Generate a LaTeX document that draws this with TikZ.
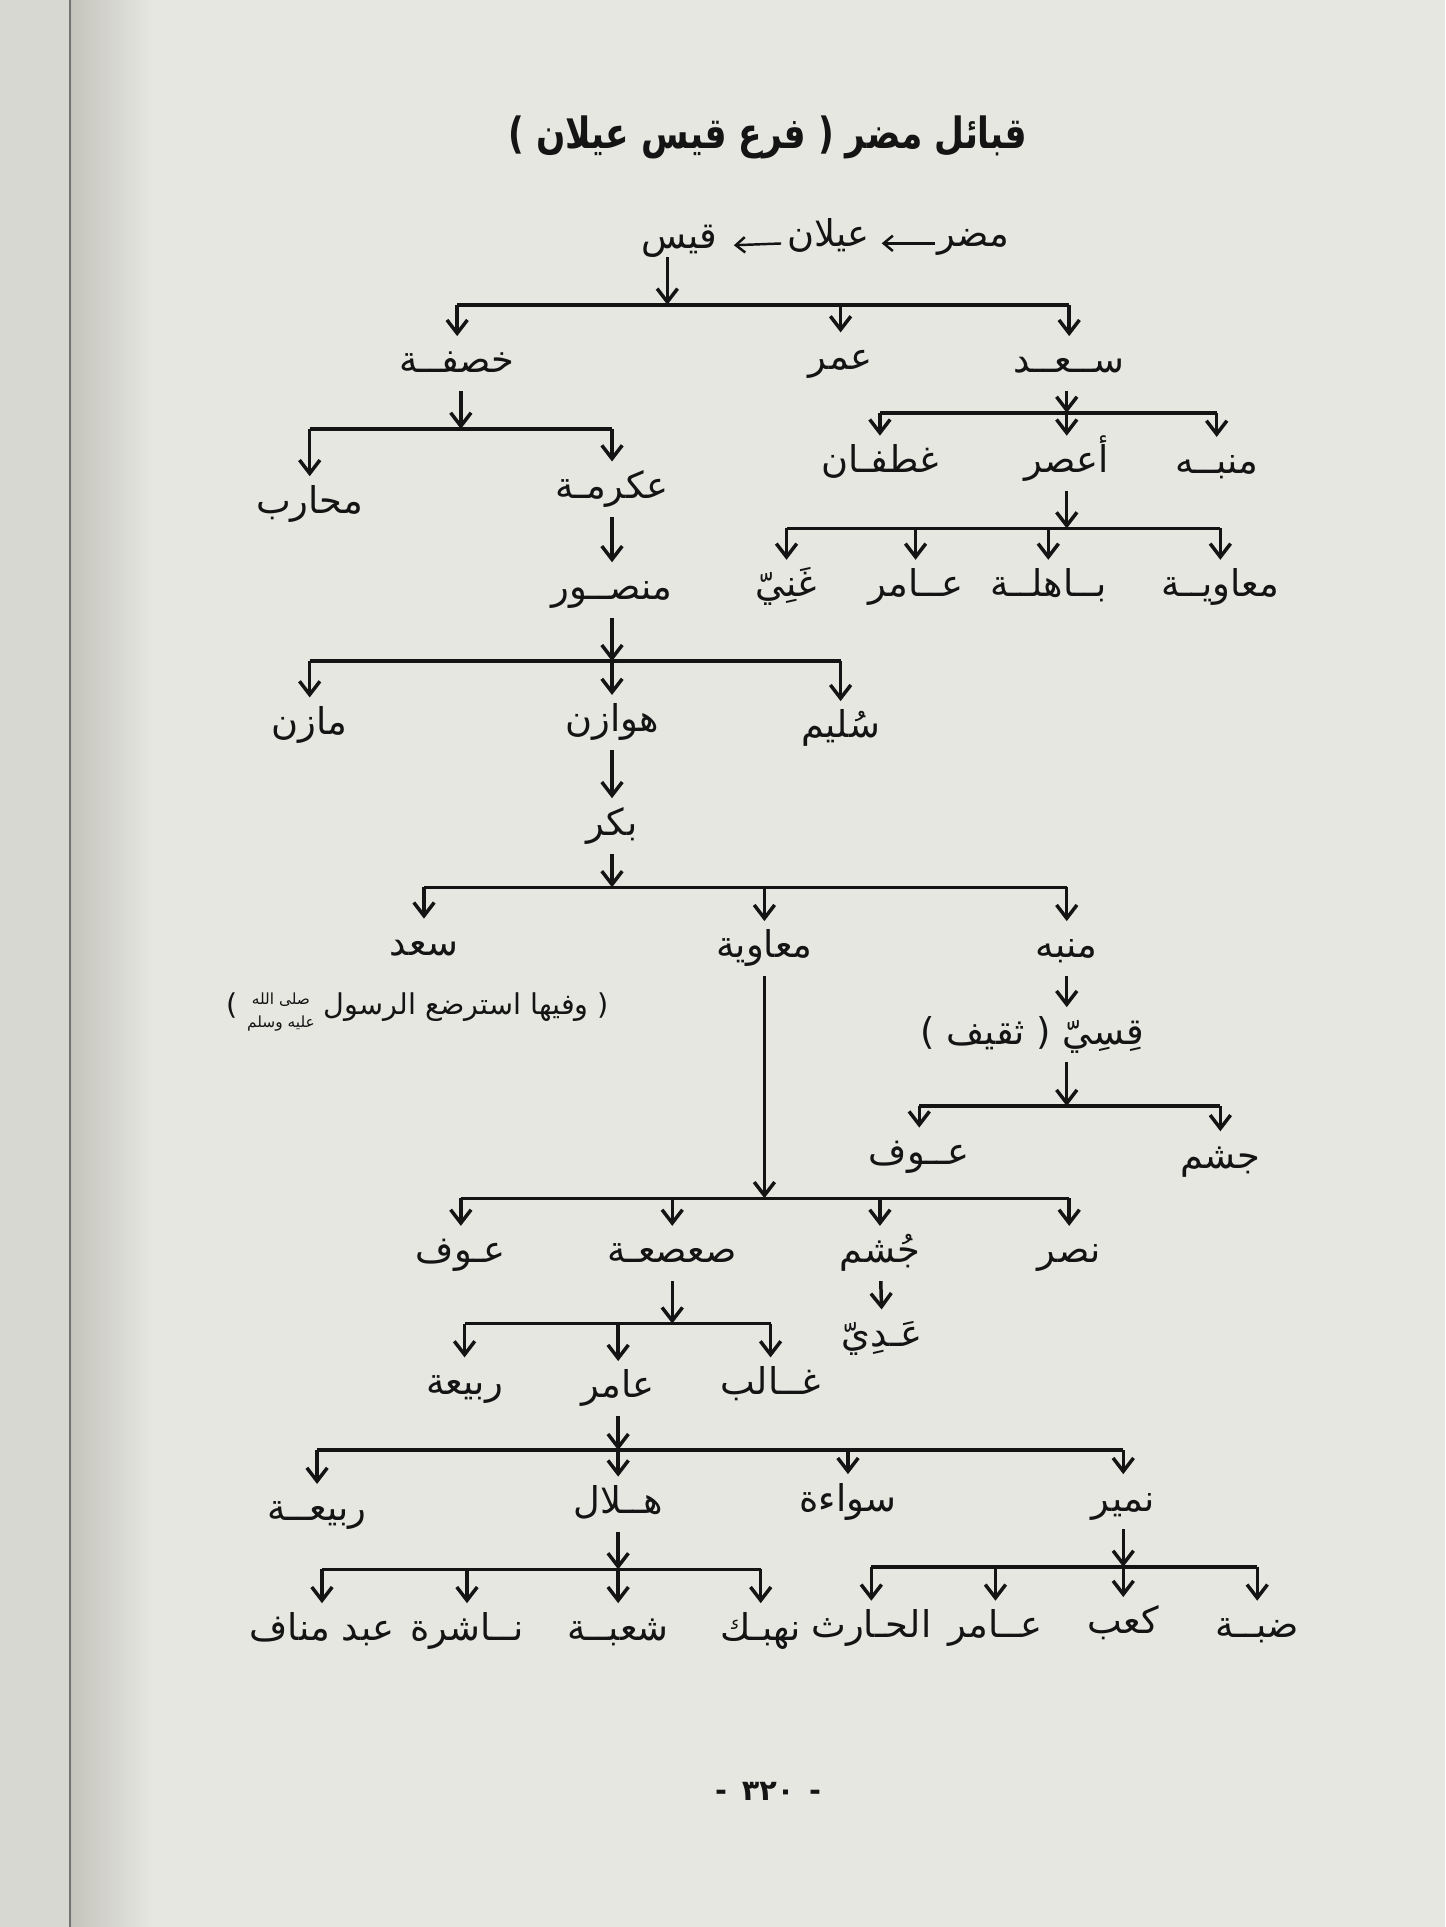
\documentclass[tikz,border=0pt]{standalone}
\usepackage{fontspec}
\usetikzlibrary{arrows.meta}
\TeXXeTstate=1
\newfontfamily\arabicfont[Script=Arabic]{DejaVu Sans}
\newcommand{\artxt}[1]{{\arabicfont\beginR #1\endR}}
\newcommand{\pbuhmark}{\raisebox{-0.8ex}{\fontsize{7.5}{7.5}\selectfont\shortstack{\beginR صلى الله\endR\\[1.5pt]\beginR عليه وسلم\endR}}}
\definecolor{pagebg}{HTML}{E7E7E2}
\definecolor{leftpage}{HTML}{D8D8D2}
\definecolor{shadowcol}{HTML}{C4C4BC}
\definecolor{ink}{HTML}{141414}
\begin{document}
\begin{tikzpicture}[x=0.6pt,y=-0.6pt,
  lbl/.style={font=\arabicfont\fontsize{18}{21}\selectfont, text=ink, inner sep=0pt,
              text height=12pt, text depth=3pt, outer sep=6pt},
  toplbl/.style={lbl, outer sep=1pt},
  ln/.style={draw=ink, line width=1.7pt},
  arr/.style={ln, -{Straight Barb[length=6.5pt,width=10pt]}},
  harr/.style={draw=ink, line width=1.2pt, -{Straight Barb[length=4.5pt,width=7.5pt]}}]
% page
\fill[pagebg] (0,0) rectangle (1176,1568);
\useasboundingbox (0,0) rectangle (1176,1568);
\fill[leftpage] (0,0) rectangle (57,1568);
\shade[left color=shadowcol, right color=pagebg] (57,0) rectangle (125,1568);
\draw[black!55, line width=1.2pt] (57,0) -- (57,1568);

% title
\node[font=\arabicfont\bfseries\fontsize{21}{25}\selectfont, text=ink] (title) at (625,112)
  {\scalebox{0.8}[1]{\artxt{قبائل مضر ( فرع قيس عيلان )}}};

% top row
\node[toplbl] (mudar) at (792,193) {مضر};
\node[toplbl] (aylan) at (674,193) {عيلان};
\node[toplbl] (qays)  at (553,195) {قيس};
\draw[harr, shorten <=0pt, shorten >=5pt] ([yshift=-3pt]mudar.west) -- ([yshift=-3pt]aylan.east);
\draw[harr, shorten <=2pt, shorten >=7pt] ([yshift=-3pt]aylan.west) -- ([yshift=-3pt]qays.east);

% level 1
\node[lbl] (khasafa) at (372,296) {خصفــة};
\node[lbl] (umar)    at (684,293) {عمر};
\node[lbl] (saad)    at (870,296) {ســعــد};
\coordinate (b1) at (543,248);
\draw[arr] (qays.south -| b1) -- (b1);
\draw[ln] (b1 -| khasafa) -- (b1 -| saad);
\foreach \c in {khasafa,umar,saad} \draw[arr] (b1 -| \c) -- (\c);

% saad branch
\node[lbl] (ghatafan) at (716,377) {غطفـان};
\node[lbl] (asur)     at (868,377) {أعصر};
\node[lbl] (manbah1)  at (990,378) {منبــه};
\coordinate (b2) at (868,336);
\draw[arr] (saad.south -| b2) -- (b2);
\draw[ln] (b2 -| ghatafan) -- (b2 -| manbah1);
\foreach \c in {ghatafan,asur,manbah1} \draw[arr] (b2 -| \c) -- (\c);

\node[lbl] (ghani)  at (640,478) {غَنِيّ};
\node[lbl] (amir1)  at (745,478) {عــامر};
\node[lbl] (bahila) at (853,478) {بــاهلــة};
\node[lbl] (muaw1)  at (993,478) {معاويــة};
\coordinate (b3) at (868,430);
\draw[arr] (asur.south -| b3) -- (b3);
\draw[ln] (b3 -| ghani) -- (b3 -| muaw1);
\foreach \c in {ghani,amir1,bahila,muaw1} \draw[arr] (b3 -| \c) -- (\c);

% khasafa branch
\node[lbl] (muharib) at (252,410) {محارب};
\node[lbl] (ikrima)  at (498,398) {عكرمـة};
\coordinate (b4) at (375,349);
\draw[arr] (khasafa.south -| b4) -- (b4);
\draw[ln] (b4 -| muharib) -- (b4 -| ikrima);
\foreach \c in {muharib,ikrima} \draw[arr] (b4 -| \c) -- (\c);

\node[lbl] (mansur) at (498,480) {منصــور};
\draw[arr] (ikrima) -- (mansur);

\node[lbl] (mazin)   at (252,590) {مازن};
\node[lbl] (hawazin) at (498,588) {هوازن};
\node[lbl] (sulaym)  at (684,593) {سُليم};
\coordinate (b5) at (498,538);
\draw[arr] (mansur.south -| b5) -- (b5);
\draw[ln] (b5 -| mazin) -- (b5 -| sulaym);
\foreach \c in {mazin,hawazin,sulaym} \draw[arr] (b5 -| \c) -- (\c);

\node[lbl] (bakr) at (498,672) {بكر};
\draw[arr] (hawazin) -- (bakr);

\node[lbl] (saad2)   at (345,770) {سعد};
\node[lbl] (muaw2)   at (622,772) {معاوية};
\node[lbl] (manbah2) at (868,772) {منبه};
\coordinate (b6) at (498,722);
\draw[arr] (bakr.south -| b6) -- (b6);
\draw[ln] (b6 -| saad2) -- (b6 -| manbah2);
\foreach \c in {saad2,muaw2,manbah2} \draw[arr] (b6 -| \c) -- (\c);

\node[lbl, font=\arabicfont\fontsize{14}{18}\selectfont] (note) at (340,818)
  {\artxt{( وفيها استرضع الرسول \pbuhmark{} )}};

% manbah branch
\node[lbl] (qasi) at (840,842) {\artxt{قِسِيّ ( ثقيف )}};
\coordinate (qx) at (868,842);
\draw[arr] (manbah2) -- (qasi.north -| qx);
\node[lbl] (awf1)    at (748,940) {عــوف};
\node[lbl] (jusham1) at (993,943) {جشم};
\coordinate (b7) at (868,900);
\draw[arr] (qasi.south -| b7) -- (b7);
\draw[ln] (b7 -| awf1) -- (b7 -| jusham1);
\foreach \c in {awf1,jusham1} \draw[arr] (b7 -| \c) -- (\c);

% muawiya branch
\node[lbl] (awf2)    at (375,1020) {عـوف};
\node[lbl] (sasaa)   at (547,1020) {صعصعـة};
\node[lbl] (jusham2) at (716,1020) {جُشم};
\node[lbl] (nasr)    at (870,1020) {نصر};
\coordinate (b8) at (622,975);
\draw[arr] (muaw2) -- (b8);
\draw[ln] (b8 -| awf2) -- (b8 -| nasr);
\foreach \c in {awf2,sasaa,jusham2,nasr} \draw[arr] (b8 -| \c) -- (\c);

\node[lbl] (adi) at (718,1088) {عَـدِيّ};
\draw[arr] (jusham2) -- (adi);

\node[lbl] (rabia1) at (378,1127) {ربيعة};
\node[lbl] (amir2)  at (503,1130) {عامر};
\node[lbl] (ghalib) at (627,1127) {غــالب};
\coordinate (b9) at (547,1077);
\draw[arr] (sasaa.south -| b9) -- (b9);
\draw[ln] (b9 -| rabia1) -- (b9 -| ghalib);
\foreach \c in {rabia1,amir2,ghalib} \draw[arr] (b9 -| \c) -- (\c);

\node[lbl] (rabia2) at (258,1230) {ربيعــة};
\node[lbl] (hilal)  at (503,1224) {هــلال};
\node[lbl] (suwaa)  at (690,1222) {سواءة};
\node[lbl] (numayr) at (914,1222) {نمير};
\coordinate (b10) at (503,1180);
\draw[arr] (amir2) -- (b10);
\draw[ln] (b10 -| rabia2) -- (b10 -| numayr);
\foreach \c in {rabia2,hilal,suwaa,numayr} \draw[arr] (b10 -| \c) -- (\c);

\node[lbl] (abdmanaf) at (262,1327) {\artxt{عبد مناف}};
\node[lbl] (nashira)  at (380,1327) {نــاشرة};
\node[lbl] (shuba)    at (503,1327) {شعبــة};
\node[lbl] (nahbak)   at (619,1327) {نهبـك};
\coordinate (b11) at (503,1277);
\draw[arr] (hilal) -- (b11);
\draw[ln] (b11 -| abdmanaf) -- (b11 -| nahbak);
\foreach \c in {abdmanaf,nashira,shuba,nahbak} \draw[arr] (b11 -| \c) -- (\c);

\node[lbl] (harith) at (709,1325) {الحـارث};
\node[lbl] (amir3)  at (810,1325) {عــامر};
\node[lbl] (kab)    at (914,1322) {كعب};
\node[lbl] (dabba)  at (1023,1325) {ضبــة};
\coordinate (b12) at (914,1275);
\draw[arr] (numayr) -- (b12);
\draw[ln] (b12 -| harith) -- (b12 -| dabba);
\foreach \c in {harith,amir3,kab,dabba} \draw[arr] (b12 -| \c) -- (\c);

% page number
\node[font=\arabicfont\bfseries\fontsize{14}{16}\selectfont, text=ink] (pagenum) at (625,1458) {-\, ٣٢٠ \,-};
\end{tikzpicture}
\end{document}
